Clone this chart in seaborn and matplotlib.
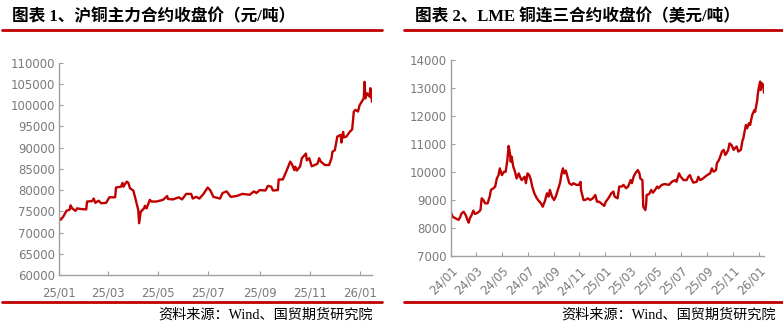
import matplotlib
matplotlib.use("Agg")
import matplotlib.pyplot as plt
import matplotlib.dates as mdates
from matplotlib.lines import Line2D
import seaborn as sns
import pandas as pd

sns.set_theme(style="white")
plt.rcParams['font.family'] = ['DejaVu Sans', 'Noto Sans CJK SC']

# ---------------- data ----------------
title_left = "图表 1、沪铜主力合约收盘价（元/吨）"
title_right = "图表 2、LME 铜连三合约收盘价（美元/吨）"
source_text = "资料来源：Wind、国贸期货研究院"

shfe_dates = ["2025-01-02", "2025-01-03", "2025-01-06", "2025-01-10", "2025-01-14", "2025-01-15", "2025-01-17",
              "2025-01-21", "2025-01-23", "2025-01-27", "2025-02-03", "2025-02-04", "2025-02-10", "2025-02-12",
              "2025-02-14", "2025-02-18", "2025-02-21", "2025-02-27", "2025-03-03", "2025-03-10", "2025-03-11",
              "2025-03-17", "2025-03-19", "2025-03-20", "2025-03-24", "2025-03-26", "2025-03-28", "2025-04-01",
              "2025-04-03", "2025-04-07", "2025-04-08", "2025-04-10", "2025-04-14", "2025-04-15", "2025-04-17",
              "2025-04-21", "2025-04-23", "2025-04-29", "2025-05-07", "2025-05-12", "2025-05-13", "2025-05-19",
              "2025-05-26", "2025-05-30", "2025-06-04", "2025-06-10", "2025-06-12", "2025-06-16", "2025-06-20",
              "2025-06-25", "2025-06-30", "2025-07-03", "2025-07-07", "2025-07-15", "2025-07-18", "2025-07-23",
              "2025-07-28", "2025-08-04", "2025-08-11", "2025-08-20", "2025-08-25", "2025-08-28", "2025-09-01",
              "2025-09-08", "2025-09-11", "2025-09-15", "2025-09-17", "2025-09-23", "2025-09-24", "2025-09-29",
              "2025-10-03", "2025-10-08", "2025-10-10", "2025-10-13", "2025-10-14", "2025-10-16", "2025-10-20",
              "2025-10-22", "2025-10-27", "2025-10-28", "2025-10-31", "2025-11-03", "2025-11-10", "2025-11-12",
              "2025-11-14", "2025-11-19", "2025-11-24", "2025-11-27", "2025-11-28", "2025-12-01", "2025-12-04",
              "2025-12-08", "2025-12-09", "2025-12-11", "2025-12-12", "2025-12-15", "2025-12-19", "2025-12-22",
              "2025-12-24", "2025-12-26", "2025-12-29", "2025-12-31", "2026-01-05", "2026-01-06", "2026-01-07",
              "2026-01-09", "2026-01-12", "2026-01-13", "2026-01-14", "2026-01-15"]
shfe_close = [73300, 73000, 73700, 75100, 75400, 76400, 75700, 75100, 75700, 75550,
              75450, 77300, 77400, 78000, 77000, 77500, 76900, 77000, 78300, 78300,
              80600, 80800, 81700, 80800, 82000, 81700, 80400, 79900, 78400, 75300,
              72200, 74900, 75700, 76300, 75700, 77700, 77300, 77300, 77700, 78600,
              77900, 77800, 78300, 77800, 79100, 79100, 78000, 78400, 78000, 79100,
              80600, 80000, 78400, 78000, 79300, 79700, 78400, 78600, 79100, 78900,
              79700, 79300, 80000, 79900, 81000, 80800, 79900, 80000, 82500, 82500,
              84300, 86700, 86100, 84700, 85500, 84600, 85600, 87500, 88600, 87000,
              87500, 85600, 86200, 87500, 86700, 85900, 85900, 87500, 89000, 89400,
              92600, 93000, 91200, 93700, 92400, 92600, 93700, 94300, 98500, 98900,
              98500, 100000, 101600, 105500, 101600, 102800, 102000, 104000, 102400, 100800]

lme_dates = ["2024-01-02", "2024-01-05", "2024-01-11", "2024-01-19", "2024-01-23", "2024-01-26", "2024-01-31",
             "2024-02-05", "2024-02-09", "2024-02-12", "2024-02-15", "2024-02-19", "2024-02-23", "2024-02-27",
             "2024-03-05", "2024-03-11", "2024-03-14", "2024-03-18", "2024-03-22", "2024-03-28", "2024-04-02",
             "2024-04-05", "2024-04-11", "2024-04-15", "2024-04-19", "2024-04-23", "2024-04-26", "2024-05-01",
             "2024-05-06", "2024-05-10", "2024-05-14", "2024-05-17", "2024-05-20", "2024-05-22", "2024-05-24",
             "2024-05-28", "2024-05-31", "2024-06-05", "2024-06-10", "2024-06-13", "2024-06-17", "2024-06-24",
             "2024-06-27", "2024-07-01", "2024-07-05", "2024-07-09", "2024-07-12", "2024-07-17", "2024-07-23",
             "2024-07-26", "2024-08-02", "2024-08-06", "2024-08-12", "2024-08-16", "2024-08-20", "2024-08-23",
             "2024-08-28", "2024-09-02", "2024-09-06", "2024-09-11", "2024-09-16", "2024-09-20", "2024-09-23",
             "2024-09-26", "2024-09-30", "2024-10-04", "2024-10-08", "2024-10-14", "2024-10-18", "2024-10-25",
             "2024-10-31", "2024-11-04", "2024-11-05", "2024-11-11", "2024-11-15", "2024-11-21", "2024-11-27",
             "2024-12-03", "2024-12-09", "2024-12-13", "2024-12-18", "2024-12-23", "2024-12-30", "2025-01-03",
             "2025-01-09", "2025-01-16", "2025-01-21", "2025-01-24", "2025-01-31", "2025-02-04", "2025-02-10",
             "2025-02-14", "2025-02-20", "2025-02-25", "2025-03-03", "2025-03-06", "2025-03-10", "2025-03-14",
             "2025-03-20", "2025-03-24", "2025-03-26", "2025-03-31", "2025-04-02", "2025-04-07", "2025-04-09",
             "2025-04-10", "2025-04-16", "2025-04-21", "2025-04-25", "2025-04-30", "2025-05-05", "2025-05-08",
             "2025-05-16", "2025-05-23", "2025-06-02", "2025-06-09", "2025-06-17", "2025-06-20", "2025-06-26",
             "2025-06-30", "2025-07-07", "2025-07-14", "2025-07-18", "2025-07-22", "2025-07-25", "2025-07-30",
             "2025-08-07", "2025-08-11", "2025-08-15", "2025-08-22", "2025-09-01", "2025-09-08", "2025-09-12",
             "2025-09-16", "2025-09-22", "2025-09-24", "2025-09-29", "2025-10-02", "2025-10-06", "2025-10-10",
             "2025-10-14", "2025-10-17", "2025-10-21", "2025-10-24", "2025-10-29", "2025-11-03", "2025-11-06",
             "2025-11-10", "2025-11-14", "2025-11-20", "2025-11-24", "2025-11-26", "2025-11-28", "2025-12-02",
             "2025-12-05", "2025-12-09", "2025-12-12", "2025-12-17", "2025-12-22", "2025-12-24", "2025-12-29",
             "2025-12-30", "2026-01-02", "2026-01-05", "2026-01-06", "2026-01-09", "2026-01-12", "2026-01-14"]
lme_close = [8520, 8400, 8350, 8290, 8400, 8520, 8580, 8460, 8290, 8190,
             8350, 8460, 8620, 8500, 8550, 8640, 9060, 9000, 8880, 8880,
             9120, 9360, 9420, 9480, 9770, 9890, 10130, 9890, 10010, 10010,
             10430, 10930, 10670, 10370, 10550, 10190, 10070, 9770, 9950, 9830,
             9710, 9830, 9600, 9950, 9890, 9710, 9480, 9240, 9060, 9000,
             8880, 8760, 9000, 9240, 9120, 9360, 9120, 9000, 9120, 9360,
             9600, 9950, 10130, 9950, 10050, 9830, 9600, 9540, 9600, 9540,
             9540, 9650, 9360, 9000, 9000, 9060, 9000, 9060, 9180, 8940,
             8940, 8880, 8790, 8940, 9060, 9240, 9300, 9120, 9060, 9480,
             9480, 9540, 9420, 9480, 9710, 9600, 9830, 9950, 10070, 9950,
             9770, 9710, 8760, 8640, 8880, 9180, 9210, 9360, 9260, 9360,
             9480, 9420, 9540, 9570, 9540, 9650, 9710, 9650, 9950, 9830,
             9710, 9710, 9830, 9890, 9770, 9620, 9650, 9830, 9710, 9770,
             9890, 9950, 10130, 10010, 10070, 10310, 10430, 10550, 10730, 10790,
             10610, 10670, 10790, 11020, 10960, 10790, 10850, 10910, 10730, 10790,
             11140, 11200, 11380, 11680, 11560, 11740, 11680, 12040, 12210, 12150,
             12570, 12750, 13050, 13230, 12930, 13170, 13110, 12830]

shfe_yticks = [60000, 65000, 70000, 75000, 80000, 85000, 90000, 95000, 100000, 105000, 110000]
lme_yticks = [7000, 8000, 9000, 10000, 11000, 12000, 13000, 14000]

# ---------------- styling ----------------
RED = "#C00000"
AXIS_GRAY = "#A0A0A0"
TICK_TXT = "#7A7A7A"
TITLE_FONT = ['Liberation Serif', 'Noto Sans CJK SC']

df_shfe = pd.DataFrame({"date": pd.to_datetime(shfe_dates), "close": shfe_close})
df_lme = pd.DataFrame({"date": pd.to_datetime(lme_dates), "close": lme_close})

fig = plt.figure(figsize=(7.83, 3.27), dpi=100)
ax1 = fig.add_axes([59 / 783, 1 - 275 / 327, 313 / 783, (275 - 62.7) / 327])
ax2 = fig.add_axes([451 / 783, 1 - 256 / 327, 313 / 783, (256 - 60) / 327])

sns.lineplot(data=df_shfe, x="date", y="close", ax=ax1, color=RED, linewidth=1.7)
sns.lineplot(data=df_lme, x="date", y="close", ax=ax2, color=RED, linewidth=1.7)

ax1.set_xlim(pd.Timestamp("2025-01-01"), pd.Timestamp("2026-01-15"))
ax2.set_xlim(pd.Timestamp("2024-01-01"), pd.Timestamp("2026-01-14"))
ax1.set_ylim(shfe_yticks[0], shfe_yticks[-1])
ax2.set_ylim(lme_yticks[0], lme_yticks[-1])
ax1.set_yticks(shfe_yticks)
ax2.set_yticks(lme_yticks)

for ax in (ax1, ax2):
    ax.xaxis.set_major_locator(mdates.MonthLocator(bymonth=[1, 3, 5, 7, 9, 11]))
    ax.xaxis.set_major_formatter(mdates.DateFormatter('%y/%m'))
    ax.set_xlabel("")
    ax.set_ylabel("")
    for s in ("top", "right"):
        ax.spines[s].set_visible(False)
    for s in ("left", "bottom"):
        ax.spines[s].set_color(AXIS_GRAY)
        ax.spines[s].set_linewidth(1.0)
    ax.tick_params(axis="both", direction="in", length=3, width=0.8, color=AXIS_GRAY,
                   labelcolor=TICK_TXT, labelsize=8.5)
    ax.tick_params(axis="y", pad=3, left=True)
    ax.tick_params(axis="x", pad=8, bottom=True)
    ax.grid(False)
    ax.set_facecolor("none")

for lab in ax2.get_xticklabels():
    lab.set_rotation(45)
    lab.set_ha("right")
    lab.set_va("top")
    lab.set_rotation_mode("anchor")
ax2.tick_params(axis="x", pad=6)

# titles
fig.text(12 / 783, 1 - 17 / 327, title_left, ha="left", va="center", fontsize=12,
         fontweight="bold", family=TITLE_FONT, color="black")
fig.text(415 / 783, 1 - 17 / 327, title_right, ha="left", va="center", fontsize=12,
         fontweight="bold", family=TITLE_FONT, color="black")

# red rules
for (x0, x1) in ((2, 382), (404, 783)):
    fig.add_artist(Line2D([x0 / 783, x1 / 783], [1 - 30 / 327] * 2, color=RED, linewidth=2.0,
                          transform=fig.transFigure))
    fig.add_artist(Line2D([x0 / 783, x1 / 783], [1 - 302 / 327] * 2, color=RED, linewidth=2.0,
                          transform=fig.transFigure))

# sources
fig.text(373 / 783, 1 - 315 / 327, source_text, ha="right", va="center", fontsize=10.2,
         family=TITLE_FONT, color="black")
fig.text(776 / 783, 1 - 315 / 327, source_text, ha="right", va="center", fontsize=10.2,
         family=TITLE_FONT, color="black")

fig.savefig("out.png", dpi=100)
